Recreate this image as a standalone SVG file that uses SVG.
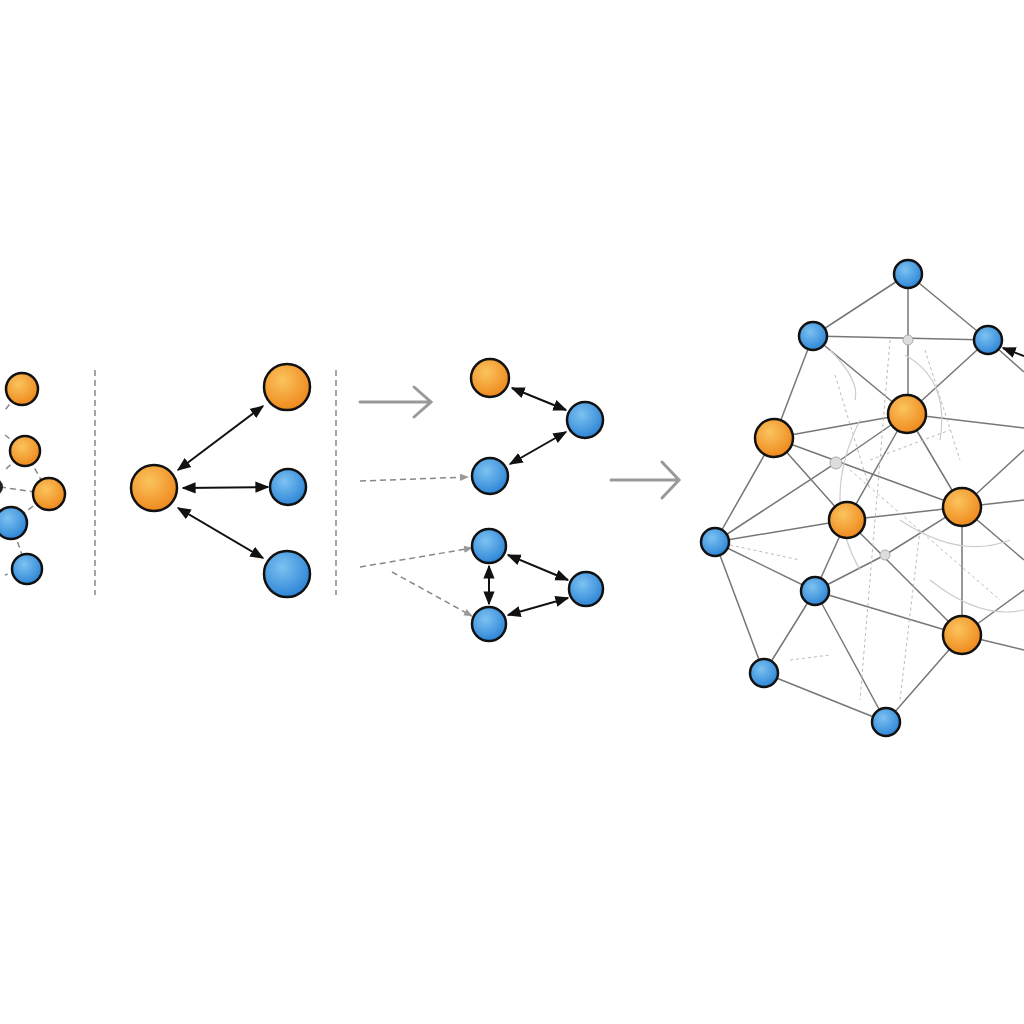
<svg xmlns="http://www.w3.org/2000/svg" width="1024" height="1024" viewBox="0 0 1024 1024">
<defs>
<radialGradient id="go" cx="0.4" cy="0.35" r="0.65"><stop offset="0" stop-color="#fbc45e"/><stop offset="1" stop-color="#ee8a1e"/></radialGradient>
<radialGradient id="gb" cx="0.4" cy="0.35" r="0.65"><stop offset="0" stop-color="#7cc2f2"/><stop offset="1" stop-color="#2f86d6"/></radialGradient>
<marker id="ah" viewBox="0 0 10 10" refX="9" refY="5" markerWidth="7" markerHeight="7" orient="auto-start-reverse"><path d="M0,1 L10,5 L0,9 z" fill="#111"/></marker>
<marker id="gh" viewBox="0 0 10 10" refX="9" refY="5" markerWidth="6" markerHeight="6" orient="auto"><path d="M0,1 L10,5 L0,9 z" fill="#999"/></marker>
</defs>
<style>
.o{fill:url(#go);stroke:#111;stroke-width:2.5}
.b{fill:url(#gb);stroke:#111;stroke-width:2.5}
.s{fill:#ddd;stroke:#aaa;stroke-width:1}
.dash{stroke:#888;stroke-width:1.5;stroke-dasharray:6 4;fill:none}
.dbl{stroke:#111;stroke-width:2;fill:none;marker-start:url(#ah);marker-end:url(#ah)}
.e{stroke:#777;stroke-width:1.5;fill:none}
.f{stroke:#bbb;stroke-width:1;fill:none;stroke-dasharray:3 3}
.big{stroke:#999;stroke-width:3;fill:none;stroke-linecap:round}
</style>
<rect width="1024" height="1024" fill="#fff"/>
<g id="connectors">
<path class="dash" d="M22,389 L5,410 M25,451 L5,435 M25,451 L49,494 M0,487 L49,494 M25,451 L5,470 M49,494 L11,523 M11,523 L27,569 M27,569 L5,575"/>
<line class="dash" x1="95" y1="370" x2="95" y2="595"/>
<line class="dash" x1="336" y1="370" x2="336" y2="595"/>
<line class="dbl" x1="178" y1="470" x2="263" y2="406"/>
<line class="dbl" x1="183" y1="488" x2="268" y2="487"/>
<line class="dbl" x1="178" y1="508" x2="263" y2="558"/>
<path class="big" d="M360,402 L430,402 M414,387 L431,402 L414,417"/>
<path class="big" d="M611,480 L678,480 M662,462 L679,480 L662,498"/>
<line class="dbl" x1="512" y1="388" x2="566" y2="410"/>
<line class="dbl" x1="566" y1="432" x2="510" y2="464"/>
<line class="dbl" x1="508" y1="555" x2="568" y2="580"/>
<line class="dbl" x1="568" y1="598" x2="508" y2="615"/>
<line class="dbl" x1="489" y1="566" x2="489" y2="604"/>
<line class="dash" x1="360" y1="481" x2="468" y2="477" marker-end="url(#gh)"/>
<line class="dash" x1="360" y1="567" x2="472" y2="548" marker-end="url(#gh)"/>
<line class="dash" x1="392" y1="572" x2="472" y2="616" marker-end="url(#gh)"/>
<path class="e" d="M908,274 L813,336 M908,274 L988,340 M908,274 L908,414 M813,336 L988,340 M813,336 L907,414 M988,340 L907,414 M813,336 L774,438 M774,438 L907,414 M774,438 L847,520 M774,438 L962,507 M907,414 L847,520 M907,414 L962,507 M907,414 L1024,428 M715,542 L774,438 M715,542 L847,520 M715,542 L836,463 L907,414 M715,542 L815,591 M715,542 L764,673 M815,591 L847,520 M815,591 L885,555 L962,507 M815,591 L962,635 M815,591 L764,673 M815,591 L886,722 M847,520 L962,635 M847,520 L962,507 M962,507 L962,635 M962,635 L886,722 M764,673 L886,722 M962,507 L1024,500 M962,507 L1024,560 M962,635 L1024,650 M962,635 L1024,590 M988,340 L1024,372 M1024,450 L962,507"/>
<line x1="1024" y1="356" x2="1003" y2="348" stroke="#111" stroke-width="2" marker-end="url(#ah)"/>
<path class="f" d="M835,375 L870,490 M890,340 L860,700 M925,350 L960,460 M730,545 L800,560 M790,660 L830,655 M920,530 L900,700 M850,470 L1000,600 M870,460 L950,430"/>
<path d="M830,350 Q860,380 855,400 M905,355 Q950,380 940,440 M860,420 Q820,500 860,570 M900,520 Q960,560 1010,540 M930,580 Q980,620 1024,610" stroke="#ccc" stroke-width="1.2" fill="none"/>
</g>
<g id="n-l1"><circle class="o" cx="22" cy="389" r="16"/></g>
<g id="n-l2"><circle class="o" cx="25" cy="451" r="15"/></g>
<g id="n-l3"><circle class="o" cx="49" cy="494" r="16"/></g>
<g id="n-l4"><circle class="b" cx="11" cy="523" r="16"/></g>
<g id="n-l5"><circle class="b" cx="27" cy="569" r="15"/></g>
<g id="n-l6"><circle fill="#222" cx="-6" cy="487" r="9"/></g>
<g id="n-m1"><circle class="o" cx="154" cy="488" r="23"/></g>
<g id="n-m2"><circle class="o" cx="287" cy="387" r="23"/></g>
<g id="n-m3"><circle class="b" cx="288" cy="487" r="18"/></g>
<g id="n-m4"><circle class="b" cx="287" cy="574" r="23"/></g>
<g id="n-g1"><circle class="o" cx="490" cy="378" r="19"/></g>
<g id="n-g2"><circle class="b" cx="585" cy="420" r="18"/></g>
<g id="n-g3"><circle class="b" cx="490" cy="476" r="18"/></g>
<g id="n-g4"><circle class="b" cx="489" cy="546" r="17"/></g>
<g id="n-g5"><circle class="b" cx="586" cy="589" r="17"/></g>
<g id="n-g6"><circle class="b" cx="489" cy="624" r="17"/></g>
<g id="n-s1"><circle class="s" cx="908" cy="340" r="5"/></g>
<g id="n-s2"><circle class="s" cx="836" cy="463" r="6"/></g>
<g id="n-s3"><circle class="s" cx="885" cy="555" r="5"/></g>
<g id="n-r1"><circle class="b" cx="908" cy="274" r="14"/></g>
<g id="n-r2"><circle class="b" cx="813" cy="336" r="14"/></g>
<g id="n-r3"><circle class="b" cx="988" cy="340" r="14"/></g>
<g id="n-r4"><circle class="o" cx="907" cy="414" r="19"/></g>
<g id="n-r5"><circle class="o" cx="774" cy="438" r="19"/></g>
<g id="n-r6"><circle class="o" cx="847" cy="520" r="18"/></g>
<g id="n-r7"><circle class="o" cx="962" cy="507" r="19"/></g>
<g id="n-r8"><circle class="b" cx="715" cy="542" r="14"/></g>
<g id="n-r9"><circle class="b" cx="815" cy="591" r="14"/></g>
<g id="n-r10"><circle class="o" cx="962" cy="635" r="19"/></g>
<g id="n-r11"><circle class="b" cx="764" cy="673" r="14"/></g>
<g id="n-r12"><circle class="b" cx="886" cy="722" r="14"/></g>
</svg>
